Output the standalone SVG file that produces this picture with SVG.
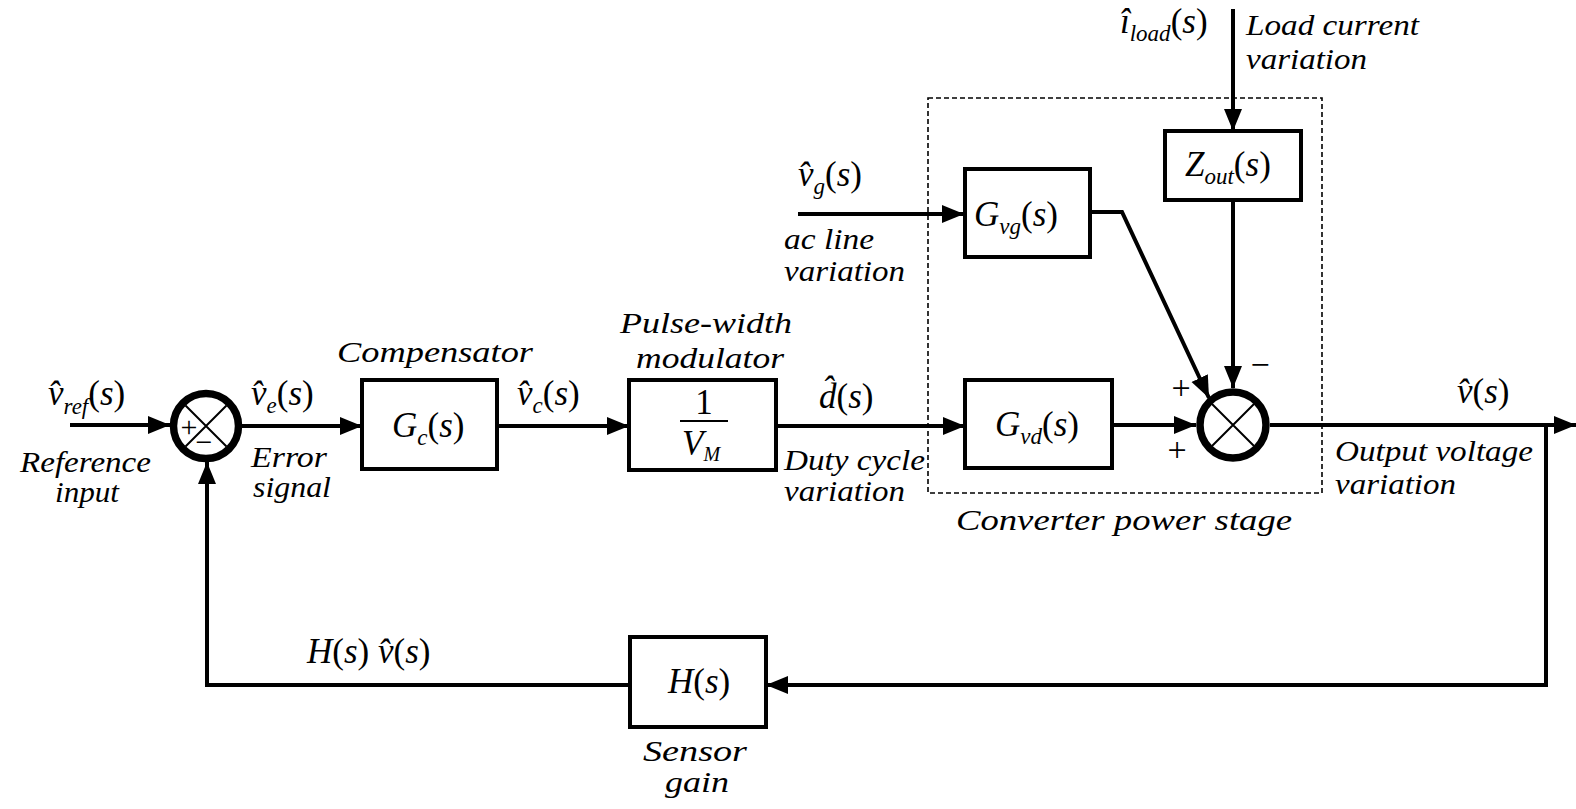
<svg xmlns="http://www.w3.org/2000/svg" width="1576" height="809" viewBox="0 0 1576 809">
<style>
.box{fill:#fff;stroke:#000;stroke-width:4}
.sum{fill:#fff;stroke:#000;stroke-width:7.5}
.x{stroke:#000;stroke-width:2}
.w{fill:none;stroke:#000;stroke-width:4}
.dash{fill:none;stroke:#000;stroke-width:1.6;stroke-dasharray:5 3}
.t,.m,.sg{font-family:"Liberation Serif","Times New Roman",Times,Tinos,"Nimbus Roman","Nimbus Roman No9 L",FreeSerif,"Noto Serif","DejaVu Serif",Georgia,serif;fill:#000}
.t{font-style:italic;font-size:30px}
.m{font-style:italic;font-size:35px}
.s{font-size:23px}
.p{font-style:normal}
.sg{font-size:34px;text-anchor:middle}
</style>
<defs>
<marker id="ah" markerUnits="userSpaceOnUse" markerWidth="24" markerHeight="20" refX="22" refY="9" orient="auto">
<path d="M0,0 L22,9 L0,18 Z" fill="#000"/>
</marker>
</defs>

<rect class="dash" x="928" y="98" width="394" height="395"/>

<g id="connectors">
<path class="w" d="M70,425 H170" marker-end="url(#ah)"/>
<path class="w" d="M242,426 H362" marker-end="url(#ah)"/>
<path class="w" d="M497,426 H629" marker-end="url(#ah)"/>
<path class="w" d="M776,426 H965" marker-end="url(#ah)"/>
<path class="w" d="M1112,425 H1196" marker-end="url(#ah)"/>
<path class="w" d="M1270,425 H1576" marker-end="url(#ah)"/>
<path class="w" d="M1546,425 V685 H766" marker-end="url(#ah)"/>
<path class="w" d="M630,685 H207 V462" marker-end="url(#ah)"/>
<path class="w" d="M798,214 H964" marker-end="url(#ah)"/>
<path class="w" d="M1090,212 H1122 L1209,398" marker-end="url(#ah)"/>
<path class="w" d="M1233,9 V131" marker-end="url(#ah)"/>
<path class="w" d="M1233,200 V388" marker-end="url(#ah)"/>
</g>

<g id="sum1">
<circle class="sum" cx="206" cy="426" r="32.5"/>
<path class="x" d="M185.5,405.5 L226.5,446.5 M226.5,405.5 L185.5,446.5"/>
<text class="sg" x="189" y="437" style="font-size:30px">+</text>
<text class="sg" x="204" y="452" style="font-size:30px">−</text>
</g>

<g id="sum2">
<circle class="sum" cx="1233" cy="425" r="33"/>
<path class="x" d="M1212,404 L1254,446 M1254,404 L1212,446"/>
<text class="sg" x="1181" y="399">+</text>
<text class="sg" x="1177" y="461">+</text>
<text class="sg" x="1260" y="376">−</text>
</g>

<g id="Gc">
<rect class="box" x="362" y="380" width="135" height="89"/>
<text class="m" x="392" y="437">G<tspan class="s" dy="8">c</tspan><tspan class="p" dy="-8">(</tspan>s<tspan class="p">)</tspan></text>
</g>

<g id="PWM">
<rect class="box" x="629" y="380" width="147" height="90"/>
<text class="m" x="704" y="414" text-anchor="middle" style="font-style:normal">1</text>
<line x1="680" y1="421" x2="728" y2="421" stroke="#000" stroke-width="2"/>
<text class="m" x="682" y="455">V<tspan class="s" dy="6" style="font-size:20px">M</tspan></text>
</g>

<g id="Gvd">
<rect class="box" x="965" y="380" width="147" height="88"/>
<text class="m" x="995" y="436">G<tspan class="s" dy="8">vd</tspan><tspan class="p" dy="-8">(</tspan>s<tspan class="p">)</tspan></text>
</g>

<g id="Gvg">
<rect class="box" x="965" y="169" width="125" height="88"/>
<text class="m" x="974" y="226">G<tspan class="s" dy="8">vg</tspan><tspan class="p" dy="-8">(</tspan>s<tspan class="p">)</tspan></text>
</g>

<g id="Zout">
<rect class="box" x="1165" y="131" width="136" height="69"/>
<text class="m" x="1185" y="176">Z<tspan class="s" dy="8">out</tspan><tspan class="p" dy="-8">(</tspan>s<tspan class="p">)</tspan></text>
</g>

<g id="H">
<rect class="box" x="630" y="637" width="136" height="90"/>
<text class="m" x="668" y="693">H<tspan class="p">(</tspan>s<tspan class="p">)</tspan></text>
</g>

<g id="labels">
<text class="m" x="48" y="405">v&#x302;<tspan class="s" dy="9">ref</tspan><tspan class="p" dy="-9">(</tspan>s<tspan class="p">)</tspan></text>
<text class="m" x="251" y="405">v&#x302;<tspan class="s" dy="8">e</tspan><tspan class="p" dy="-8">(</tspan>s<tspan class="p">)</tspan></text>
<text class="m" x="517" y="405">v&#x302;<tspan class="s" dy="8">c</tspan><tspan class="p" dy="-8">(</tspan>s<tspan class="p">)</tspan></text>
<text class="m" x="819" y="408">d&#x302;<tspan class="p">(</tspan>s<tspan class="p">)</tspan></text>
<text class="m" x="798" y="186">v&#x302;<tspan class="s" dy="8">g</tspan><tspan class="p" dy="-8">(</tspan>s<tspan class="p">)</tspan></text>
<text class="m" x="1120" y="33">î<tspan class="s" dy="8">load</tspan><tspan class="p" dy="-8">(</tspan>s<tspan class="p">)</tspan></text>
<text class="m" x="1457" y="403">v&#x302;<tspan class="p">(</tspan>s<tspan class="p">)</tspan></text>
<text class="m" x="307" y="663">H<tspan class="p">(</tspan>s<tspan class="p">)</tspan> v&#x302;<tspan class="p">(</tspan>s<tspan class="p">)</tspan></text>

<text class="t" x="20" y="472" textLength="131" lengthAdjust="spacingAndGlyphs">Reference</text>
<text class="t" x="55" y="502" textLength="64" lengthAdjust="spacingAndGlyphs">input</text>
<text class="t" x="251" y="467" textLength="76" lengthAdjust="spacingAndGlyphs">Error</text>
<text class="t" x="253" y="497" textLength="78" lengthAdjust="spacingAndGlyphs">signal</text>
<text class="t" x="337" y="362" textLength="196" lengthAdjust="spacingAndGlyphs">Compensator</text>
<text class="t" x="620" y="333" textLength="172" lengthAdjust="spacingAndGlyphs">Pulse-width</text>
<text class="t" x="636" y="368" textLength="148" lengthAdjust="spacingAndGlyphs">modulator</text>
<text class="t" x="784" y="470" textLength="141" lengthAdjust="spacingAndGlyphs">Duty cycle</text>
<text class="t" x="784" y="501" textLength="121" lengthAdjust="spacingAndGlyphs">variation</text>
<text class="t" x="784" y="249" textLength="90" lengthAdjust="spacingAndGlyphs">ac line</text>
<text class="t" x="784" y="281" textLength="121" lengthAdjust="spacingAndGlyphs">variation</text>
<text class="t" x="956" y="530" textLength="336" lengthAdjust="spacingAndGlyphs">Converter power stage</text>
<text class="t" x="1335" y="461" textLength="198" lengthAdjust="spacingAndGlyphs">Output voltage</text>
<text class="t" x="1335" y="494" textLength="121" lengthAdjust="spacingAndGlyphs">variation</text>
<text class="t" x="1246" y="35" textLength="173" lengthAdjust="spacingAndGlyphs">Load current</text>
<text class="t" x="1246" y="69" textLength="121" lengthAdjust="spacingAndGlyphs">variation</text>
<text class="t" x="643" y="761" textLength="104" lengthAdjust="spacingAndGlyphs">Sensor</text>
<text class="t" x="665" y="792" textLength="64" lengthAdjust="spacingAndGlyphs">gain</text>
</g>
</svg>
